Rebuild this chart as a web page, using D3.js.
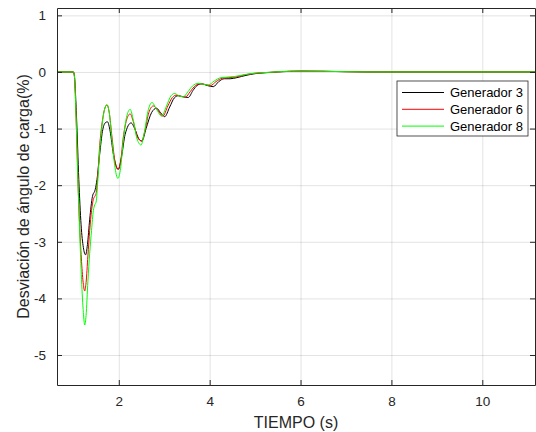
<!DOCTYPE html>
<html>
<head>
<meta charset="utf-8">
<script src="https://cdn.jsdelivr.net/npm/d3@7"></script>
<style>
  body { margin: 0; background: #fff; }
  svg { display: block; font-family: "Liberation Sans", Arial, Helvetica, sans-serif; }
  .tick text { fill: #262626; font-size: 13.5px; }
  .grid line { stroke: #262626; stroke-opacity: 0.13; }
  .grid .domain { display: none; }
</style>
</head>
<body>
<div id="holder"></div>
<script>
// series data (time in s, deviation in %)
var t3 = [0.64, 1.0, 1.02, 1.07, 1.12, 1.17, 1.22, 1.27, 1.31, 1.36, 1.42, 1.48, 1.52, 1.58, 1.64, 1.70, 1.75, 1.81, 1.88, 1.99, 2.06, 2.14, 2.27, 2.36, 2.44, 2.51, 2.60, 2.72, 2.83, 2.92, 3.01, 3.12, 3.22, 3.31, 3.42, 3.53, 3.63, 3.72, 3.82, 3.95, 4.08, 4.20, 4.32, 4.45, 4.60, 4.80, 5.00, 5.20, 5.50, 6.00, 6.50, 7.00, 7.50, 11.16];
var g3 = [0, 0, -0.05, -0.8, -1.9, -2.7, -3.1, -3.23, -3.05, -2.6, -2.2, -2.08, -1.9, -1.45, -1.05, -0.9, -0.88, -1.05, -1.45, -1.72, -1.5, -1.1, -0.9, -1.02, -1.18, -1.22, -1.0, -0.72, -0.64, -0.72, -0.79, -0.62, -0.46, -0.42, -0.44, -0.45, -0.33, -0.24, -0.21, -0.24, -0.26, -0.17, -0.12, -0.12, -0.1, -0.06, -0.03, -0.015, 0, 0.015, 0.012, 0.005, 0, 0];

var t6 = [0.64, 1.0, 1.02, 1.06, 1.10, 1.14, 1.18, 1.22, 1.25, 1.28, 1.32, 1.36, 1.40, 1.44, 1.47, 1.50, 1.54, 1.58, 1.63, 1.68, 1.74, 1.79, 1.85, 1.91, 1.98, 2.04, 2.10, 2.17, 2.25, 2.32, 2.41, 2.50, 2.58, 2.66, 2.76, 2.86, 2.97, 3.08, 3.18, 3.26, 3.36, 3.47, 3.57, 3.66, 3.78, 3.90, 4.02, 4.14, 4.28, 4.42, 4.57, 4.77, 4.92, 5.12, 5.37, 5.60, 6.00, 6.50, 7.00, 7.50, 11.16];
var g6 = [0, 0, -0.05, -0.8, -1.9, -2.75, -3.35, -3.75, -3.87, -3.72, -3.25, -2.8, -2.45, -2.25, -2.2, -2.15, -1.8, -1.3, -0.92, -0.68, -0.58, -0.72, -1.15, -1.55, -1.72, -1.58, -1.15, -0.85, -0.74, -0.88, -1.15, -1.22, -1.02, -0.72, -0.6, -0.68, -0.78, -0.6, -0.45, -0.41, -0.43, -0.44, -0.35, -0.26, -0.21, -0.22, -0.24, -0.17, -0.11, -0.1, -0.09, -0.05, -0.03, -0.015, -0.005, 0.008, 0.015, 0.012, 0.005, 0, 0];

var t8 = [0.64, 1.0, 1.02, 1.06, 1.10, 1.14, 1.18, 1.22, 1.25, 1.28, 1.32, 1.36, 1.40, 1.44, 1.47, 1.50, 1.54, 1.58, 1.63, 1.68, 1.74, 1.79, 1.85, 1.91, 1.98, 2.04, 2.10, 2.17, 2.25, 2.32, 2.40, 2.49, 2.56, 2.64, 2.73, 2.83, 2.94, 3.05, 3.15, 3.23, 3.32, 3.42, 3.52, 3.62, 3.75, 3.87, 3.97, 4.10, 4.25, 4.40, 4.55, 4.75, 4.90, 5.10, 5.35, 5.60, 6.00, 6.50, 7.00, 7.50, 11.16];
var g8 = [0, 0, -0.05, -0.8, -1.91, -2.85, -3.67, -4.25, -4.47, -4.3, -3.7, -3.2, -2.8, -2.45, -2.35, -2.3, -1.9, -1.38, -0.95, -0.68, -0.58, -0.72, -1.2, -1.65, -1.88, -1.7, -1.2, -0.8, -0.66, -0.85, -1.18, -1.29, -1.08, -0.7, -0.54, -0.66, -0.78, -0.6, -0.42, -0.38, -0.42, -0.44, -0.35, -0.25, -0.2, -0.22, -0.23, -0.16, -0.1, -0.09, -0.08, -0.05, -0.03, -0.015, -0.005, 0.008, 0.015, 0.012, 0.005, 0, 0];

var names = ["Generador 3", "Generador 6", "Generador 8"];
var colors = ["#000000", "#ff0000", "#00ff00"];
var xTicks = [2, 4, 6, 8, 10];
var yTicks = [-5, -4, -3, -2, -1, 0, 1];

var WIDTH = 536,
    HEIGHT = 432,
    MARGINS = { top: 8, right: 1, bottom: 47, left: 57 };

var svg = d3.select("#holder").append("svg")
    .attr("width", WIDTH)
    .attr("height", HEIGHT);

var x = d3.scaleLinear()
    .domain([0.64, 11.16])
    .range([MARGINS.left, WIDTH - MARGINS.right]);
var y = d3.scaleLinear()
    .domain([-5.53, 1.13])
    .range([HEIGHT - MARGINS.bottom, MARGINS.top]);

var plotW = WIDTH - MARGINS.right - MARGINS.left,
    plotH = HEIGHT - MARGINS.bottom - MARGINS.top;

// grid
svg.append("g")
    .attr("class", "grid")
    .attr("transform", "translate(0," + (HEIGHT - MARGINS.bottom) + ")")
    .call(d3.axisBottom(x).tickValues(xTicks).tickSize(-plotH).tickFormat(""));
svg.append("g")
    .attr("class", "grid")
    .attr("transform", "translate(" + MARGINS.left + ",0)")
    .call(d3.axisLeft(y).tickValues(yTicks).tickSize(-plotW).tickFormat(""));

// lines
var series = [[t3, g3], [t6, g6], [t8, g8]];
var line = d3.line()
    .curve(d3.curveMonotoneX)
    .x(function(d) { return x(d[0]); })
    .y(function(d) { return y(d[1]); });

series.forEach(function(s, i) {
  var data = s[0].map(function(t, j) { return [t, s[1][j]]; });
  svg.append("path")
      .datum(data)
      .attr("fill", "none")
      .attr("stroke", colors[i])
      .attr("stroke-width", 1)
      .attr("stroke-linejoin", "round")
      .attr("d", line);
});

// axes, ticks inside, box on
function styleAxis(g) {
  g.select(".domain").attr("stroke", "#262626").attr("stroke-width", 1);
  g.selectAll(".tick line").attr("stroke", "#262626");
}
svg.append("g")
    .attr("transform", "translate(0," + (HEIGHT - MARGINS.bottom) + ")")
    .call(d3.axisBottom(x).tickValues(xTicks).tickSizeInner(-5).tickSizeOuter(0).tickPadding(11))
    .call(styleAxis);
svg.append("g")
    .attr("transform", "translate(0," + MARGINS.top + ")")
    .call(d3.axisTop(x).tickValues(xTicks).tickSizeInner(-5).tickSizeOuter(0).tickFormat(""))
    .call(styleAxis);
svg.append("g")
    .attr("transform", "translate(" + MARGINS.left + ",0)")
    .call(d3.axisLeft(y).tickValues(yTicks).tickSizeInner(-5).tickSizeOuter(0).tickPadding(11)
      .tickFormat(function(d) { return d < 0 ? "-" + Math.abs(d) : d; }))
    .call(styleAxis);
svg.append("g")
    .attr("transform", "translate(" + (WIDTH - MARGINS.right) + ",0)")
    .call(d3.axisRight(y).tickValues(yTicks).tickSizeInner(-5).tickSizeOuter(0).tickFormat(""))
    .call(styleAxis);

// axis labels
svg.append("text")
    .attr("x", MARGINS.left + plotW / 2)
    .attr("y", 428)
    .attr("text-anchor", "middle")
    .attr("font-size", 16)
    .attr("fill", "#262626")
    .text("TIEMPO (s)");
svg.append("text")
    .attr("transform", "translate(29," + (MARGINS.top + plotH / 2) + ") rotate(-90)")
    .attr("text-anchor", "middle")
    .attr("font-size", 16)
    .attr("fill", "#262626")
    .text("Desviación de ángulo de carga(%)");

// legend
var lg = svg.append("g").attr("transform", "translate(397,81)");
lg.append("rect")
    .attr("width", 131)
    .attr("height", 55)
    .attr("fill", "#fff")
    .attr("stroke", "#262626")
    .attr("stroke-width", 0.8);
names.forEach(function(n, i) {
  var yy = 11.5 + i * 16.8;
  lg.append("line")
      .attr("x1", 5).attr("x2", 47)
      .attr("y1", yy).attr("y2", yy)
      .attr("stroke", colors[i])
      .attr("stroke-width", 1);
  lg.append("text")
      .attr("x", 53)
      .attr("y", yy + 4.6)
      .attr("font-size", 13)
      .attr("fill", "#000")
      .text(n);
});
</script>
</body>
</html>
